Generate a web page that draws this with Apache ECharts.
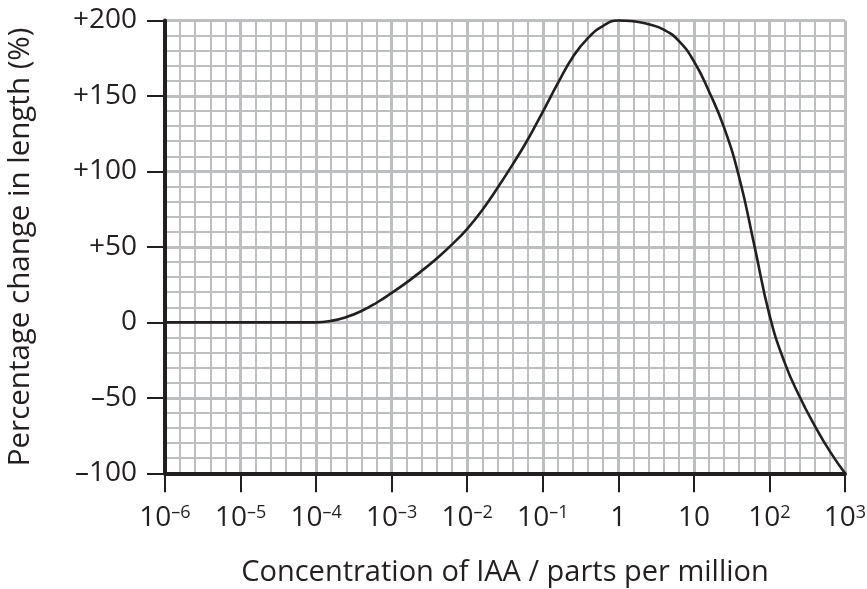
<!DOCTYPE html>
<html>
<head>
<meta charset="utf-8">
<script src="https://cdn.jsdelivr.net/npm/echarts@6/dist/echarts.min.js"></script>
<style>
html,body{margin:0;padding:0;background:#fff;}
#chart{width:867px;height:589px;}
</style>
</head>
<body>
<div id="chart"></div>
<script>
// log10 of IAA concentration (parts per million)
var log10Concentration = [-6, -5.8, -5.6, -5.4, -5.2, -5, -4.8, -4.6, -4.4, -4.2, -4, -3.8, -3.6, -3.4, -3.2, -3.0, -2.8, -2.6, -2.4, -2.2, -2.0, -1.8, -1.6, -1.4, -1.2, -1.0, -0.8, -0.6, -0.4, -0.2, 0, 0.2, 0.4, 0.6, 0.8, 1.0, 1.2, 1.4, 1.6, 1.8, 2.0, 2.2, 2.4, 2.6, 2.8, 3.0];
// percentage change in length (%)
var percentChange = [0, 0, 0, 0, 0, 0, 0, 0, 0, 0, 0, 1, 3.5, 7.5, 13, 19.5, 26.5, 34.2, 42.5, 51.7, 62, 74.5, 89, 104.5, 121, 139.5, 158.5, 176, 188.5, 196.5, 200, 199.5, 197.5, 194, 186.5, 173, 153, 129, 96, 51, 5, -26.5, -49.3, -68.5, -85.5, -100];

var xTickValues = [-6, -5, -4, -3, -2, -1, 0, 1, 2, 3];
var xTickLabels = ['10{s|\u20136}', '10{s|\u20135}', '10{s|\u20134}', '10{s|\u20133}', '10{s|\u20132}', '10{s|\u20131}', '1', '10', '10{s|2}', '10{s|3}'];
var yTickValues = [-100, -50, 0, 50, 100, 150, 200];
var yTickLabels = ['\u2013100', '\u201350', '0', '+50', '+100', '+150', '+200'];

var xTitle = 'Concentration of IAA / parts per million';
var yTitle = 'Percentage change in length (%)';

var seriesData = log10Concentration.map(function (x, i) { return [x, percentChange[i]]; });

var FONT = '"Open Sans", "Noto Sans", sans-serif';
var TXT = '#231f20';
var GRIDC = '#bcbec0';

var chart = echarts.init(document.getElementById('chart'), null, {renderer: 'canvas'});
chart.setOption({
  animation: false,
  backgroundColor: '#ffffff',
  grid: {left: 165, right: 22, top: 20.5, bottom: 115.7, containLabel: false, outerBoundsMode: 'none'},
  xAxis: {
    type: 'value',
    min: -6, max: 3, interval: 1,
    name: xTitle,
    nameLocation: 'middle',
    nameGap: 85,
    nameTextStyle: {fontFamily: FONT, fontSize: 29, color: TXT},
    axisLine: {show: true, onZero: false, lineStyle: {color: TXT, width: 4}},
    axisTick: {show: true, inside: false, length: 19, lineStyle: {color: TXT, width: 2}},
    axisLabel: {
      margin: 31,
      fontFamily: FONT, fontSize: 28, color: TXT,
      formatter: function (v) {
        var i = xTickValues.indexOf(Math.round(v));
        return i >= 0 ? xTickLabels[i] : '';
      },
      rich: {
        s: {fontFamily: FONT, fontSize: 18, color: TXT, verticalAlign: 'top', lineHeight: 20, padding: [0, 0, 12, 0]}
      }
    },
    splitLine: {show: true, lineStyle: {color: GRIDC, width: 3}},
    minorTick: {show: false, splitNumber: 5},
    minorSplitLine: {show: true, lineStyle: {color: GRIDC, width: 2}}
  },
  yAxis: {
    type: 'value',
    min: -100, max: 200, interval: 50,
    name: yTitle,
    nameLocation: 'middle',
    nameGap: 129,
    nameRotate: 90,
    nameTextStyle: {fontFamily: FONT, fontSize: 29.5, color: TXT},
    axisLine: {show: true, onZero: false, lineStyle: {color: TXT, width: 4}},
    axisTick: {show: true, inside: false, length: 18, lineStyle: {color: TXT, width: 2}},
    axisLabel: {
      margin: 28,
      fontFamily: FONT, fontSize: 28, color: TXT,
      formatter: function (v) {
        var i = yTickValues.indexOf(Math.round(v));
        return i >= 0 ? yTickLabels[i] : '';
      }
    },
    splitLine: {show: true, lineStyle: {color: GRIDC, width: 3}},
    minorTick: {show: false, splitNumber: 5},
    minorSplitLine: {show: true, lineStyle: {color: GRIDC, width: 2}}
  },
  series: [{
    type: 'line',
    data: seriesData,
    showSymbol: false,
    symbol: 'none',
    smooth: 0.5,
    clip: false,
    lineStyle: {color: TXT, width: 2.6},
    z: 5
  }]
});
</script>
</body>
</html>
